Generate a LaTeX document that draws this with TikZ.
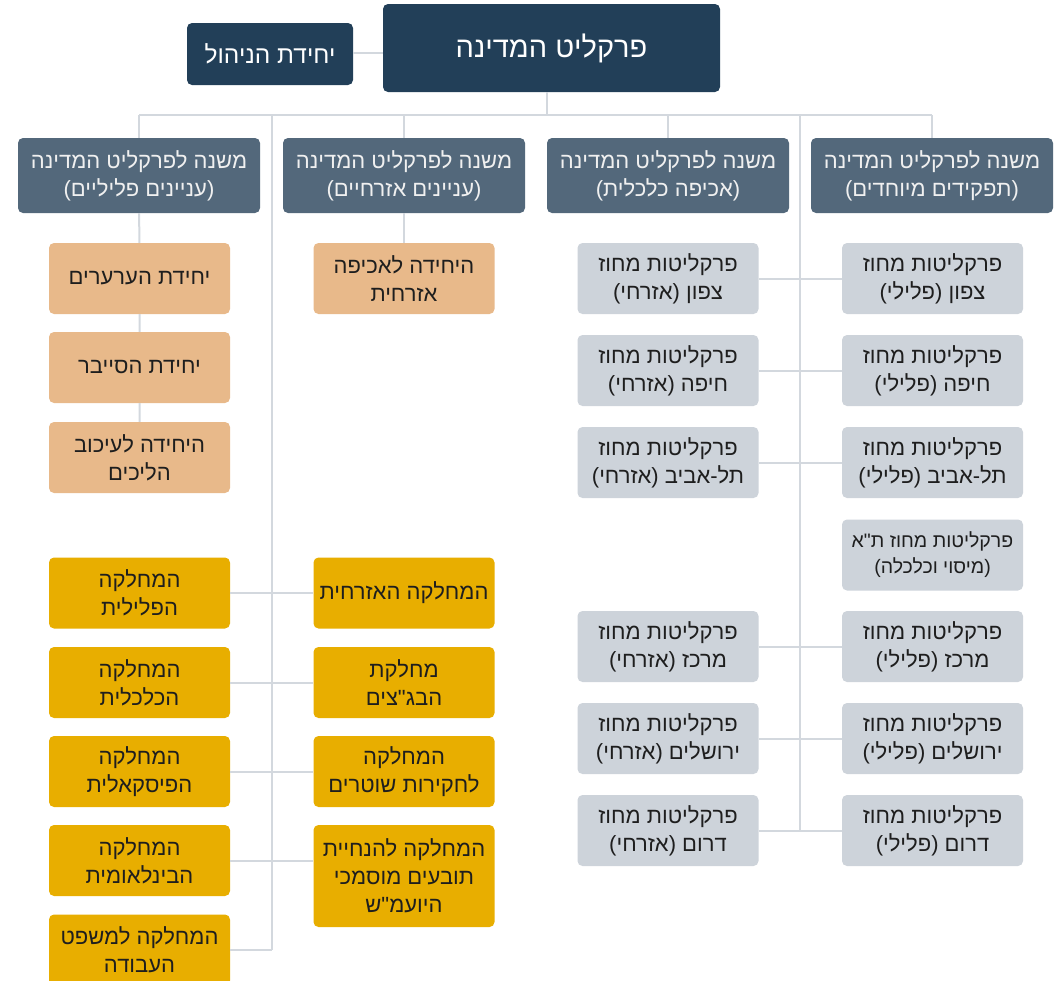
\documentclass[tikz,border=0pt]{standalone}
\usepackage{fontspec}
\setmainfont{Liberation Sans}
\newfontfamily\hebfont[Script=Hebrew]{Liberation Sans}
\TeXXeTstate=1
\usetikzlibrary{positioning}
\newcommand{\heb}[1]{{\hebfont\beginR #1\endR}}
\definecolor{navy}{HTML}{223F58}
\definecolor{slate}{HTML}{53687B}
\definecolor{peach}{HTML}{E8B98A}
\definecolor{gold}{HTML}{E8AE00}
\definecolor{pale}{HTML}{CDD3DA}
\definecolor{wirecol}{HTML}{D3D8DE}
\definecolor{ink}{HTML}{1E1E1E}

\begin{document}
\begin{tikzpicture}
[x=1pt,y=-1pt,
every node/.style={rounded corners=5pt,align=center,inner sep=2pt,text=ink,font=\fontsize{22}{28}\selectfont},
head/.style={fill=navy,text=white},
deputy/.style={fill=slate,text=white!94!black,minimum width=242pt,minimum height=75pt},
unit/.style={fill=peach,minimum width=181pt,minimum height=71pt},
dept/.style={fill=gold,minimum width=181pt,minimum height=71pt},
office/.style={fill=pale,minimum width=181pt,minimum height=71pt},
wire/.style={draw=wirecol,line width=2pt}]
\useasboundingbox (0,0) rectangle (1062,980);

\node[head,minimum width=337pt,minimum height=88pt,font=\fontsize{29}{32}\selectfont] (chief) at (551.5,48) {\heb{פרקליט המדינה}};
\node[head,minimum width=166pt,minimum height=62pt,font=\fontsize{24.5}{28}\selectfont] (mgmt) at (270,54) {\heb{יחידת הניהול}};

\node[deputy] (crim) at (139,175.5) {\heb{משנה לפרקליט המדינה}\\\heb{(עניינים פליליים)}};
\node[deputy] (civ) at (404,175.5) {\heb{משנה לפרקליט המדינה}\\\heb{(עניינים אזרחיים)}};
\node[deputy] (econ) at (668,175.5) {\heb{משנה לפרקליט המדינה}\\\heb{(אכיפה כלכלית)}};
\node[deputy] (spec) at (932,175.5) {\heb{משנה לפרקליט המדינה}\\\heb{(תפקידים מיוחדים)}};

\node[unit] (appeal) at (139.5,278.5) {\heb{יחידת הערערים}};
\node[unit] (cyber) at (139.5,367.5) {\heb{יחידת הסייבר}};
\node[unit] (stay) at (139.5,457.5) {\heb{היחידה לעיכוב}\\\heb{הליכים}};
\node[unit] (civenf) at (404,278.5) {\heb{היחידה לאכיפה}\\\heb{אזרחית}};

\node[dept] (dcrim) at (139.5,593) {\heb{המחלקה}\\\heb{הפלילית}};
\node[dept] (decon) at (139.5,682.5) {\heb{המחלקה}\\\heb{הכלכלית}};
\node[dept] (dfisc) at (139.5,771.5) {\heb{המחלקה}\\\heb{הפיסקאלית}};
\node[dept] (dintl) at (139.5,860.5) {\heb{המחלקה}\\\heb{הבינלאומית}};
\node[dept] (dlab) at (139.5,950) {\heb{המחלקה למשפט}\\\heb{העבודה}};
\node[dept] (dciv) at (404,593) {\heb{המחלקה האזרחית}};
\node[dept] (dhcj) at (404,682.5) {\heb{מחלקת}\\\heb{הבג"צים}};
\node[dept] (dpol) at (404,771.5) {\heb{המחלקה}\\\heb{לחקירות שוטרים}};
\node[dept,minimum height=102pt] (dagg) at (404,876) {\heb{המחלקה להנחיית}\\\heb{תובעים מוסמכי}\\\heb{היועמ"ש}};

\node[office] (nciv) at (668,278.5) {\heb{פרקליטות מחוז}\\\heb{צפון (אזרחי)}};
\node[office] (hciv) at (668,370.5) {\heb{פרקליטות מחוז}\\\heb{חיפה (אזרחי)}};
\node[office] (tciv) at (668,462.5) {\heb{פרקליטות מחוז}\\\heb{תל-אביב (אזרחי)}};
\node[office] (cciv) at (668,646.5) {\heb{פרקליטות מחוז}\\\heb{מרכז (אזרחי)}};
\node[office] (jciv) at (668,738.5) {\heb{פרקליטות מחוז}\\\heb{ירושלים (אזרחי)}};
\node[office] (sciv) at (668,830.5) {\heb{פרקליטות מחוז}\\\heb{דרום (אזרחי)}};
\node[office] (ncrim) at (932.5,278.5) {\heb{פרקליטות מחוז}\\\heb{צפון (פלילי)}};
\node[office] (hcrim) at (932.5,370.5) {\heb{פרקליטות מחוז}\\\heb{חיפה (פלילי)}};
\node[office] (tcrim) at (932.5,462.5) {\heb{פרקליטות מחוז}\\\heb{תל-אביב (פלילי)}};
\node[office,font=\fontsize{19.5}{26}\selectfont] (ttax) at (932.5,555) {\heb{פרקליטות מחוז ת"א}\\\heb{(מיסוי וכלכלה)}};
\node[office] (ccrim) at (932.5,646.5) {\heb{פרקליטות מחוז}\\\heb{מרכז (פלילי)}};
\node[office] (jcrim) at (932.5,738.5) {\heb{פרקליטות מחוז}\\\heb{ירושלים (פלילי)}};
\node[office] (scrim) at (932.5,830.5) {\heb{פרקליטות מחוז}\\\heb{דרום (פלילי)}};

\coordinate (bus) at (547,115);
\coordinate (spineL) at (272,950);
\coordinate (spineR) at (800,830.5);

\draw[wire] (mgmt.east |- 0,53) -- (chief.west |- 0,53);
\draw[wire] (chief.south -| bus) -- (bus);
\draw[wire] (crim.north |- bus) -- (spec.north |- bus);
\draw[wire] (crim.north |- bus) -- (crim.north);
\draw[wire] (civ.north |- bus) -- (civ.north);
\draw[wire] (econ.north |- bus) -- (econ.north);
\draw[wire] (spec.north |- bus) -- (spec.north);
\draw[wire] (spineL |- bus) -- (spineL);
\draw[wire] (spineR |- bus) -- (spineR);

\draw[wire] (crim) -- (appeal) -- (cyber) -- (stay);
\draw[wire] (civ) -- (civenf);

\draw[wire] (dcrim) -- (dciv);
\draw[wire] (decon) -- (dhcj);
\draw[wire] (dfisc) -- (dpol);
\draw[wire] (dintl.east) -- (dintl.east -| dagg.west);
\draw[wire] (dlab.east) -- (spineL);

\draw[wire] (nciv) -- (ncrim);
\draw[wire] (hciv) -- (hcrim);
\draw[wire] (tciv) -- (tcrim);
\draw[wire] (cciv) -- (ccrim);
\draw[wire] (jciv) -- (jcrim);
\draw[wire] (sciv) -- (scrim);
\end{tikzpicture}
\end{document}
